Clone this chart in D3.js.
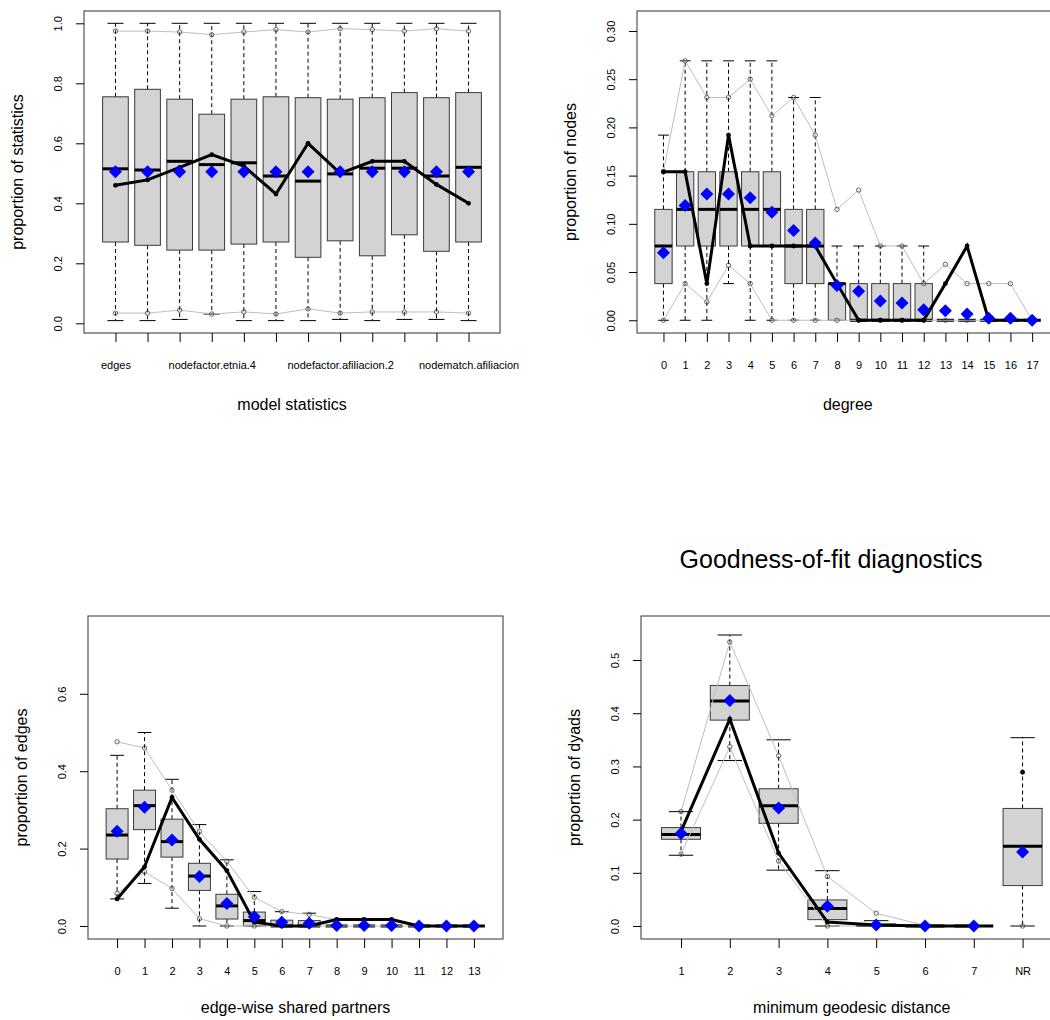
<!DOCTYPE html>
<html>
<head>
<meta charset="utf-8">
<script src="https://cdn.jsdelivr.net/npm/d3@7"></script>
<style>
  body { margin: 0; background: #fff; }
  svg { display: block; font-family: 'Liberation Sans', Arial, sans-serif; }
</style>
</head>
<body>
<svg id="gof" width="1050" height="1020"></svg>
<script>
// Model statistics panel
const statLabels = ['edges', '', '', 'nodefactor.etnia.4', '', '', '', 'nodefactor.afiliacion.2', '', '', '', 'nodematch.afiliacion'];
const statQ1 = [0.271, 0.26, 0.244, 0.244, 0.264, 0.271, 0.22, 0.275, 0.225, 0.295, 0.24, 0.271];
const statMed = [0.515, 0.511, 0.54, 0.529, 0.535, 0.491, 0.474, 0.498, 0.517, 0.517, 0.491, 0.52];
const statQ3 = [0.755, 0.78, 0.747, 0.697, 0.747, 0.755, 0.752, 0.747, 0.752, 0.769, 0.752, 0.769];
const statLo = [0.009, 0.009, 0.013, 0.031, 0.009, 0.009, 0.009, 0.013, 0.009, 0.013, 0.013, 0.009];
const statHi = [1, 1, 1, 1, 1, 1, 1, 1, 1, 1, 1, 1];
const statMean = [0.505, 0.505, 0.505, 0.505, 0.505, 0.505, 0.505, 0.505, 0.505, 0.505, 0.505, 0.505];
const statObs = [0.46, 0.478, 0.52, 0.562, 0.524, 0.431, 0.6, 0.5, 0.54, 0.54, 0.463, 0.4];
const statMax = [0.974, 0.974, 0.971, 0.962, 0.971, 0.979, 0.971, 0.982, 0.979, 0.974, 0.982, 0.974];
const statMin = [0.034, 0.034, 0.044, 0.031, 0.038, 0.031, 0.048, 0.034, 0.038, 0.038, 0.038, 0.034];

// Degree panel
const degLabels = ['0', '1', '2', '3', '4', '5', '6', '7', '8', '9', '10', '11', '12', '13', '14', '15', '16', '17'];
const degQ1 = [0.038, 0.077, 0.077, 0.077, 0.077, 0.077, 0.038, 0.038, 0, 0, 0, 0, 0, 0, 0, 0, 0, 0];
const degMed = [0.077, 0.115, 0.115, 0.115, 0.115, 0.115, 0.077, 0.077, 0.038, 0, 0, 0, 0, 0, 0, 0, 0, 0];
const degQ3 = [0.115, 0.154, 0.154, 0.154, 0.154, 0.154, 0.115, 0.115, 0.038, 0.038, 0.038, 0.038, 0.038, 0, 0, 0, 0, 0];
const degLo = [0, 0, 0, 0.038, 0, 0, 0, 0, 0, 0, 0, 0, 0, 0, 0, 0, 0, 0];
const degHi = [0.192, 0.269, 0.269, 0.269, 0.269, 0.269, 0.231, 0.231, 0.077, 0.077, 0.077, 0.077, 0.077, 0, 0, 0, 0, 0];
const degMean = [0.07, 0.119, 0.131, 0.131, 0.127, 0.112, 0.093, 0.08, 0.036, 0.03, 0.02, 0.018, 0.011, 0.01, 0.0065, 0.002, 0.002, 0];
const degObs = [0.154, 0.154, 0.038, 0.192, 0.077, 0.077, 0.077, 0.077, 0.038, 0, 0, 0, 0, 0.038, 0.077, 0, 0, 0];
const degMax = [0.154, 0.269, 0.231, 0.231, 0.25, 0.212, 0.231, 0.192, 0.115, 0.135, 0.077, 0.077, 0.038, 0.058, 0.038, 0.038, 0.038, 0];
const degMin = [0, 0.038, 0.019, 0.057, 0.038, 0, 0, 0, 0, 0, 0, 0, 0, 0, 0, 0, 0, 0];

// Edge-wise shared partners panel
const espLabels = ['0', '1', '2', '3', '4', '5', '6', '7', '8', '9', '10', '11', '12', '13'];
const espQ1 = [0.173, 0.249, 0.178, 0.092, 0.018, 0, 0, 0, 0, 0, 0, 0, 0, 0];
const espMed = [0.235, 0.311, 0.218, 0.129, 0.052, 0.014, 0, 0, 0, 0, 0, 0, 0, 0];
const espQ3 = [0.303, 0.351, 0.276, 0.162, 0.082, 0.036, 0.015, 0.014, 0, 0, 0, 0, 0, 0];
const espLo = [0.07, 0.11, 0.046, 0, 0, 0, 0, 0, 0, 0, 0, 0, 0, 0];
const espHi = [0.441, 0.5, 0.379, 0.262, 0.171, 0.089, 0.037, 0.033, 0, 0, 0, 0, 0, 0];
const espMean = [0.245, 0.307, 0.222, 0.128, 0.058, 0.024, 0.0095, 0.007, 0.001, 0.001, 0.001, 0, 0, 0];
const espObs = [0.07, 0.153, 0.332, 0.224, 0.143, 0.01, 0, 0, 0.017, 0.017, 0.017, 0, 0, 0];
const espMax = [0.476, 0.46, 0.351, 0.244, 0.167, 0.074, 0.037, 0.03, 0.016, 0.016, 0.014, 0, 0, 0];
const espMin = [0.084, 0.14, 0.097, 0.019, 0, 0, 0, 0, 0, 0, 0, 0, 0, 0];

// Minimum geodesic distance panel (NR is not joined by the lines)
const geoLabels = ['1', '2', '3', '4', '5', '6', '7', 'NR'];
const geoQ1 = [0.163, 0.387, 0.193, 0.012, 0, 0, 0, 0.076];
const geoMed = [0.172, 0.423, 0.226, 0.033, 0.001, 0, 0, 0.15];
const geoQ3 = [0.185, 0.452, 0.258, 0.049, 0.004, 0, 0, 0.221];
const geoLo = [0.133, 0.311, 0.105, 0, 0, 0, 0, 0];
const geoHi = [0.215, 0.547, 0.35, 0.104, 0.01, 0, 0, 0.354];
const geoMean = [0.174, 0.424, 0.222, 0.037, 0.002, 0, 0, 0.139];
const geoObs = [0.178, 0.389, 0.137, 0.0075, 0.002, 0, 0, 0.289];
const geoMax = [0.215, 0.534, 0.32, 0.093, 0.024, 0.001, 0, null];
const geoMin = [0.135, 0.337, 0.122, 0, 0, 0, 0, 0];

const mainTitle = 'Goodness-of-fit diagnostics';

document.addEventListener('DOMContentLoaded', function () {
  const svg = d3.select('#gof');

  const panels = [
    {
      labels: statLabels, q1: statQ1, med: statMed, q3: statQ3, lo: statLo, hi: statHi,
      mean: statMean, obs: statObs, max: statMax, min: statMin, lineN: 12,
      left: 84, right: 500, top: 11, bottom: 333, yDomain: [-0.0323, 1.041],
      yTicks: [0, 0.2, 0.4, 0.6, 0.8, 1], fmt: '.1f',
      xTitle: 'model statistics', yTitle: 'proportion of statistics', xTitleY: 410
    },
    {
      labels: degLabels, q1: degQ1, med: degMed, q3: degQ3, lo: degLo, hi: degHi,
      mean: degMean, obs: degObs, max: degMax, min: degMin, lineN: 18,
      left: 637, right: 1058.6, top: 11, bottom: 333, yDomain: [-0.0132, 0.3207],
      yTicks: [0, 0.05, 0.1, 0.15, 0.2, 0.25, 0.3], fmt: '.2f',
      xTitle: 'degree', yTitle: 'proportion of nodes', xTitleY: 410
    },
    {
      labels: espLabels, q1: espQ1, med: espMed, q3: espQ3, lo: espLo, hi: espHi,
      mean: espMean, obs: espObs, max: espMax, min: espMin, lineN: 14,
      left: 88, right: 503, top: 616, bottom: 939, yDomain: [-0.0336, 0.801],
      yTicks: [0, 0.2, 0.4, 0.6], fmt: '.1f',
      xTitle: 'edge-wise shared partners', yTitle: 'proportion of edges', xTitleY: 1013
    },
    {
      labels: geoLabels, q1: geoQ1, med: geoMed, q3: geoQ3, lo: geoLo, hi: geoHi,
      mean: geoMean, obs: geoObs, max: geoMax, min: geoMin, lineN: 7,
      left: 641, right: 1062.6, top: 616, bottom: 939, yDomain: [-0.0244, 0.5827],
      yTicks: [0, 0.1, 0.2, 0.3, 0.4, 0.5], fmt: '.1f',
      xTitle: 'minimum geodesic distance', yTitle: 'proportion of dyads', xTitleY: 1013
    }
  ];

  panels.forEach(drawPanel);

  // Overall title sits above the last panel
  svg.append('text')
    .attr('x', 831)
    .attr('y', 568)
    .attr('text-anchor', 'middle')
    .attr('font-size', 25)
    .text(mainTitle);

  function drawPanel(p) {
    const n = p.labels.length;
    const idx = d3.range(n);
    // R style boxplot range: 0.5 .. n+0.5 padded by 4%
    const x = d3.scaleLinear()
      .domain([-0.5 - 0.04 * n, n - 0.5 + 0.04 * n])
      .range([p.left, p.right]);
    const y = d3.scaleLinear().domain(p.yDomain).range([p.bottom, p.top]);
    const step = x(1) - x(0);
    const bw = step * 0.4;
    const cw = step * 0.25;

    const g = svg.append('g');

    // Whiskers
    g.selectAll('.wup').data(idx).enter().append('line')
      .attr('x1', i => x(i)).attr('x2', i => x(i))
      .attr('y1', i => y(p.q3[i])).attr('y2', i => y(p.hi[i]))
      .attr('stroke', '#000').attr('stroke-dasharray', '4,3');
    g.selectAll('.wdn').data(idx).enter().append('line')
      .attr('x1', i => x(i)).attr('x2', i => x(i))
      .attr('y1', i => y(p.q1[i])).attr('y2', i => y(p.lo[i]))
      .attr('stroke', '#000').attr('stroke-dasharray', '4,3');
    g.selectAll('.cap-hi').data(idx).enter().append('line')
      .attr('x1', i => x(i) - cw).attr('x2', i => x(i) + cw)
      .attr('y1', i => y(p.hi[i])).attr('y2', i => y(p.hi[i]))
      .attr('stroke', '#000');
    g.selectAll('.cap-lo').data(idx).enter().append('line')
      .attr('x1', i => x(i) - cw).attr('x2', i => x(i) + cw)
      .attr('y1', i => y(p.lo[i])).attr('y2', i => y(p.lo[i]))
      .attr('stroke', '#000');

    // Boxes and medians
    g.selectAll('.box').data(idx).enter().append('rect')
      .attr('x', i => x(i) - bw)
      .attr('width', bw * 2)
      .attr('y', i => y(p.q3[i]))
      .attr('height', i => Math.max(0, y(p.q1[i]) - y(p.q3[i])))
      .attr('fill', '#d3d3d3')
      .attr('stroke', '#3a3a3a');
    g.selectAll('.med').data(idx).enter().append('line')
      .attr('x1', i => x(i) - bw).attr('x2', i => x(i) + bw)
      .attr('y1', i => y(p.med[i])).attr('y2', i => y(p.med[i]))
      .attr('stroke', '#000').attr('stroke-width', 3);

    // Simulated range (grey lines with open circles)
    const lineIdx = d3.range(p.lineN);
    [p.max, p.min].forEach(function (arr) {
      g.append('path')
        .datum(lineIdx.filter(i => arr[i] != null))
        .attr('d', d3.line().x(i => x(i)).y(i => y(arr[i])))
        .attr('fill', 'none')
        .attr('stroke', '#bebebe');
      g.selectAll(null).data(idx.filter(i => arr[i] != null)).enter().append('circle')
        .attr('cx', i => x(i)).attr('cy', i => y(arr[i]))
        .attr('r', 2.2)
        .attr('fill', 'none')
        .attr('stroke', '#444')
        .attr('stroke-width', 0.8);
    });

    // Observed values
    g.append('path')
      .datum(lineIdx)
      .attr('d', d3.line().x(i => x(i)).y(i => y(p.obs[i])))
      .attr('fill', 'none')
      .attr('stroke', '#000')
      .attr('stroke-width', 3);
    g.selectAll('.obs').data(idx).enter().append('circle')
      .attr('cx', i => x(i)).attr('cy', i => y(p.obs[i]))
      .attr('r', 2.4)
      .attr('fill', '#000');

    // Simulated means
    g.selectAll('.mean').data(idx).enter().append('path')
      .attr('transform', i => 'translate(' + x(i) + ',' + y(p.mean[i]) + ')')
      .attr('d', 'M0,-6.5L6.5,0L0,6.5L-6.5,0Z')
      .attr('fill', '#0000ff');

    // Frame
    g.append('rect')
      .attr('x', p.left).attr('y', p.top)
      .attr('width', p.right - p.left).attr('height', p.bottom - p.top)
      .attr('fill', 'none')
      .attr('stroke', '#333');

    // Axes
    const xAxis = g.append('g')
      .attr('transform', 'translate(0,' + p.bottom + ')')
      .call(d3.axisBottom(x).tickValues(idx).tickFormat(i => p.labels[i]).tickSize(9).tickSizeOuter(0));
    xAxis.select('.domain').remove();
    xAxis.selectAll('text').attr('y', 28).attr('font-size', 11).attr('fill', '#000')
      .attr('font-family', "'Liberation Sans', Arial, sans-serif");

    const yAxis = g.append('g')
      .attr('transform', 'translate(' + p.left + ',0)')
      .call(d3.axisLeft(y).tickValues(p.yTicks).tickFormat(d3.format(p.fmt)).tickSize(8).tickSizeOuter(0));
    yAxis.select('.domain').remove();
    yAxis.selectAll('text')
      .attr('transform', 'rotate(-90)')
      .attr('x', 0).attr('y', -22).attr('dy', 0)
      .attr('text-anchor', 'middle')
      .attr('font-size', 11).attr('fill', '#000')
      .attr('font-family', "'Liberation Sans', Arial, sans-serif");

    // Axis titles
    g.append('text')
      .attr('x', (p.left + p.right) / 2)
      .attr('y', p.xTitleY)
      .attr('text-anchor', 'middle')
      .attr('font-size', 16)
      .text(p.xTitle);
    g.append('text')
      .attr('transform', 'translate(' + (p.left - 66) + ',' + (p.top + p.bottom) / 2 + ') rotate(-90)')
      .attr('text-anchor', 'middle')
      .attr('dy', '0.3em')
      .attr('font-size', 16)
      .text(p.yTitle);
  }
});
</script>
</body>
</html>
